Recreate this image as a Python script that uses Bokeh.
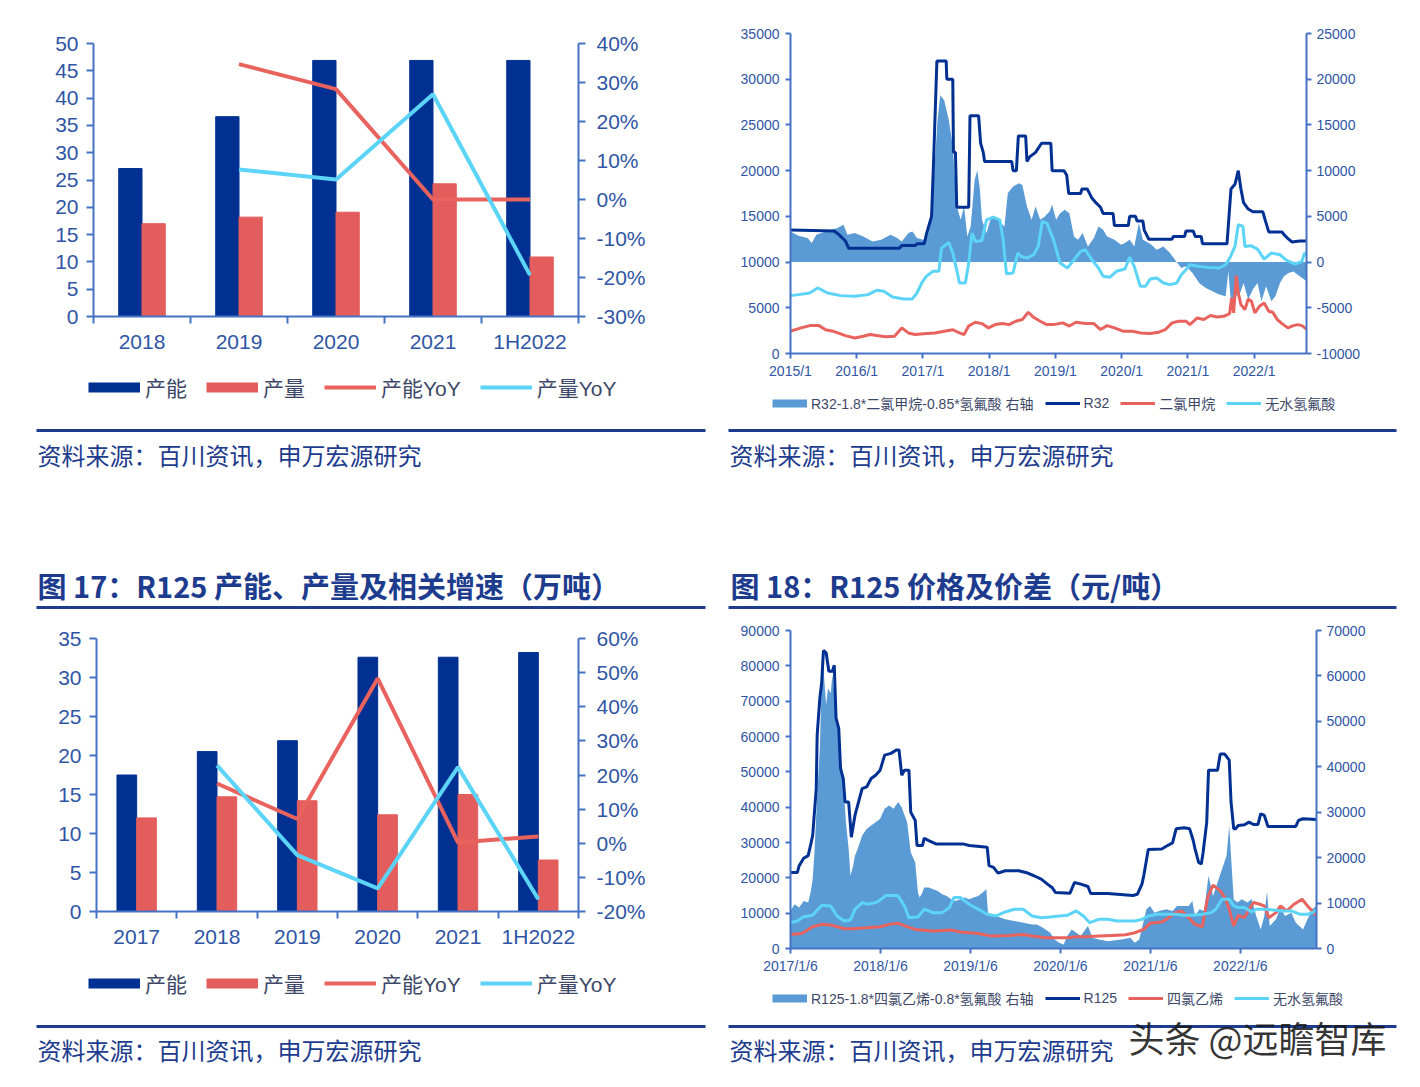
import math
from datetime import date
from bokeh.plotting import figure
from bokeh.layouts import row, column
from bokeh.models import (Range1d, LinearAxis, FixedTicker, SingleIntervalTicker,
                          PrintfTickFormatter, Legend, LegendItem)
from bokeh.core.properties import value
from bokeh.embed import file_html
from bokeh.resources import INLINE

NAN = float("nan")

# ---------------- data: R32 capacity / output (top left) ----------------
r32_years = ["2018", "2019", "2020", "2021", "1H2022"]
r32_capacity = [27.1, 36.6, 46.9, 46.9, 46.9]
r32_output = [17.0, 18.2, 19.1, 24.3, 10.9]
r32_capacity_yoy = [NAN, 34.7, 28.3, 0.0, 0.0]
r32_output_yoy = [NAN, 7.7, 5.1, 27.0, -19.4]

# ---------------- data: R125 capacity / output (bottom left) ----------------
r125_years = ["2017", "2018", "2019", "2020", "2021", "1H2022"]
r125_capacity = [17.5, 20.5, 21.9, 32.6, 32.6, 33.2]
r125_output = [12.0, 14.7, 14.2, 12.4, 15.0, 6.6]
r125_capacity_yoy = [NAN, 17.5, 7.1, 48.3, 0.2, 2.0]
r125_output_yoy = [NAN, 22.8, -3.5, -13.2, 22.3, -16.4]

# ---------------- data: R32 prices (top right), (decimal year, yuan/t) ----------------
r32_ticks = ["2015/1", "2016/1", "2017/1", "2018/1", "2019/1", "2020/1", "2021/1", "2022/1"]
r32_price = [(2015.00, 13500), (2015.66, 13400), (2015.73, 13000), (2015.83, 12300), (2015.88, 11500),
             (2016.64, 11500), (2016.68, 11800), (2016.88, 11800), (2016.91, 12000), (2017.02, 12000),
             (2017.05, 13000), (2017.09, 14000), (2017.13, 15000), (2017.16, 21000), (2017.21, 32000),
             (2017.35, 32000), (2017.36, 30000), (2017.45, 30000), (2017.46, 22000), (2017.49, 22000),
             (2017.51, 16000), (2017.69, 16000), (2017.71, 26000), (2017.84, 26000), (2017.87, 23000),
             (2017.91, 22000), (2017.93, 21000), (2018.34, 21000), (2018.36, 20000), (2018.41, 20000),
             (2018.44, 23800), (2018.55, 23800), (2018.57, 21000), (2018.61, 21500), (2018.70, 22000),
             (2018.79, 23000), (2018.93, 23000), (2018.95, 20000), (2019.13, 20000), (2019.17, 19500),
             (2019.20, 17500), (2019.38, 17500), (2019.40, 18000), (2019.48, 18000), (2019.55, 17000),
             (2019.61, 16500), (2019.68, 16000), (2019.72, 15300), (2019.87, 15300), (2019.89, 14000),
             (2020.10, 14000), (2020.12, 15000), (2020.21, 15000), (2020.23, 14500), (2020.32, 14500),
             (2020.34, 13500), (2020.41, 12500), (2020.76, 12500), (2020.78, 12800), (2020.95, 12800),
             (2020.97, 13400), (2021.08, 13400), (2021.11, 12800), (2021.20, 12800), (2021.22, 12000),
             (2021.59, 12000), (2021.62, 15000), (2021.65, 18000), (2021.71, 18500), (2021.76, 20000),
             (2021.80, 18000), (2021.84, 16500), (2021.91, 15800), (2021.98, 15500), (2022.13, 15500),
             (2022.17, 14500), (2022.22, 13300), (2022.42, 13300), (2022.45, 13000), (2022.52, 12500),
             (2022.57, 12200), (2022.69, 12300), (2022.79, 12300)]
dcm_price = [(2015.00, 2440), (2015.16, 2800), (2015.29, 3050), (2015.43, 3050), (2015.53, 2600),
             (2015.66, 2400), (2015.83, 1960), (2015.97, 1700), (2016.10, 1890), (2016.20, 2070),
             (2016.30, 1960), (2016.44, 1820), (2016.57, 1890), (2016.68, 2800), (2016.78, 2250),
             (2016.88, 2070), (2017.01, 2150), (2017.18, 2250), (2017.32, 2440), (2017.45, 2600),
             (2017.55, 2250), (2017.62, 2070), (2017.69, 3000), (2017.79, 3420), (2017.89, 3270),
             (2017.99, 2800), (2018.09, 3160), (2018.20, 3270), (2018.30, 3160), (2018.40, 3530),
             (2018.50, 3710), (2018.59, 4510), (2018.67, 3960), (2018.77, 3530), (2018.87, 3160),
             (2018.97, 3160), (2019.11, 3350), (2019.21, 3000), (2019.31, 3420), (2019.45, 3270),
             (2019.58, 3270), (2019.68, 2620), (2019.78, 3050), (2019.89, 2800), (2020.02, 2440),
             (2020.16, 2440), (2020.29, 2250), (2020.43, 2180), (2020.56, 2330), (2020.66, 2620),
             (2020.76, 3350), (2020.86, 3530), (2020.97, 3530), (2021.03, 3160), (2021.14, 3890),
             (2021.24, 3710), (2021.34, 4150), (2021.44, 4000), (2021.54, 4070), (2021.63, 4370),
             (2021.66, 6070), (2021.69, 4440), (2021.73, 8510), (2021.76, 6620), (2021.80, 5350),
             (2021.86, 4800), (2021.91, 5960), (2021.96, 5710), (2022.01, 4440), (2022.08, 5170),
             (2022.15, 5530), (2022.22, 4620), (2022.28, 4510), (2022.35, 3710), (2022.42, 3270),
             (2022.51, 2800), (2022.59, 3050), (2022.66, 3160), (2022.72, 3050), (2022.79, 2690)]
hf_price_a = [(2015.00, 6330), (2015.12, 6440), (2015.29, 6620), (2015.41, 7170), (2015.56, 6620),
              (2015.76, 6330), (2015.97, 6260), (2016.17, 6440), (2016.30, 6910), (2016.41, 6800),
              (2016.54, 6180), (2016.71, 5970), (2016.84, 5970), (2016.91, 6620), (2016.98, 7710),
              (2017.05, 8440), (2017.15, 8990), (2017.24, 8990), (2017.28, 11530), (2017.39, 12150),
              (2017.45, 10990), (2017.52, 8800), (2017.55, 7710), (2017.64, 7710), (2017.69, 9890),
              (2017.74, 13170), (2017.79, 12260), (2017.89, 12370), (2017.96, 14620), (2018.06, 14910),
              (2018.16, 14620), (2018.21, 12440), (2018.26, 8730), (2018.36, 8800), (2018.43, 10990),
              (2018.48, 10620), (2018.57, 10440), (2018.67, 10800), (2018.74, 11710), (2018.80, 14440),
              (2018.87, 14260), (2018.97, 12440), (2019.07, 9890), (2019.18, 9350), (2019.28, 10260),
              (2019.38, 11170), (2019.45, 11350), (2019.55, 10260), (2019.65, 9350), (2019.72, 8440),
              (2019.82, 8330), (2019.92, 8990), (2020.05, 9240), (2020.12, 10550), (2020.19, 9530),
              (2020.28, 7350), (2020.36, 7350), (2020.43, 8150), (2020.53, 8260), (2020.63, 7710),
              (2020.73, 7530), (2020.83, 7710), (2020.90, 8620), (2020.97, 9170), (2021.03, 9710),
              (2021.17, 9530), (2021.30, 9420), (2021.47, 9350), (2021.57, 9710), (2021.64, 10550),
              (2021.71, 11710), (2021.76, 14080), (2021.83, 13900), (2021.86, 11710), (2021.95, 11790),
              (2022.05, 11420), (2022.15, 10330), (2022.26, 10990), (2022.39, 10800), (2022.49, 10190),
              (2022.62, 9780), (2022.72, 10080), (2022.76, 10990), (2022.79, 10800)]
r32_spread = [(2015.00, 3350), (2015.12, 2880), (2015.26, 2620), (2015.32, 2080), (2015.39, 2990),
              (2015.53, 3350), (2015.70, 3710), (2015.80, 4080), (2015.86, 2990), (2015.97, 3170),
              (2016.10, 2810), (2016.24, 2260), (2016.37, 2440), (2016.51, 2990), (2016.61, 2620),
              (2016.68, 2260), (2016.78, 3170), (2016.84, 3350), (2016.91, 2620), (2017.01, 2440),
              (2017.08, 3170), (2017.15, 7530), (2017.22, 15540), (2017.26, 18260), (2017.32, 17710),
              (2017.39, 15540), (2017.45, 12630), (2017.51, 6080), (2017.57, 4620), (2017.62, 6080),
              (2017.67, 2810), (2017.72, 3900), (2017.78, 8990), (2017.82, 10080), (2017.86, 7900),
              (2017.89, 4620), (2017.96, 3170), (2018.03, 4990), (2018.13, 4620), (2018.23, 3900),
              (2018.28, 7530), (2018.36, 8260), (2018.45, 8620), (2018.50, 8440), (2018.57, 6080),
              (2018.64, 4620), (2018.70, 6080), (2018.77, 4620), (2018.84, 4990), (2018.91, 5530),
              (2018.95, 6260), (2019.01, 4620), (2019.07, 5350), (2019.14, 5720), (2019.21, 5350),
              (2019.28, 2810), (2019.34, 2440), (2019.41, 3170), (2019.49, 1710), (2019.58, 2620),
              (2019.65, 3900), (2019.72, 3530), (2019.78, 2810), (2019.89, 2440), (2019.99, 1890),
              (2020.05, 2080), (2020.12, 2440), (2020.19, 1710), (2020.26, 4260), (2020.32, 2440),
              (2020.43, 2000), (2020.53, 1350), (2020.63, 1710), (2020.73, 980), (2020.83, 0),
              (2020.90, -650), (2020.97, -470), (2021.07, -1200), (2021.17, -2290), (2021.27, -2830),
              (2021.37, -3200), (2021.47, -3560), (2021.57, -3740), (2021.61, -1000), (2021.64, -3600),
              (2021.68, -5560), (2021.71, -3740), (2021.78, -3560), (2021.84, -2290), (2021.91, -4100),
              (2021.98, -3000), (2022.05, -2290), (2022.11, -4280), (2022.18, -2650), (2022.26, -4280),
              (2022.32, -3740), (2022.39, -2290), (2022.45, -1560), (2022.52, -1200), (2022.59, -1020),
              (2022.69, -1560), (2022.76, -1930), (2022.79, -2110)]

# ---------------- data: R125 prices (bottom right) ----------------
r125_ticks = ["2017/1/6", "2018/1/6", "2019/1/6", "2020/1/6", "2021/1/6", "2022/1/6"]
r125_price = [(2017.01, 21540), (2017.09, 21540), (2017.11, 23430), (2017.16, 25520), (2017.21, 26280),
              (2017.24, 29600), (2017.26, 31970), (2017.28, 38600), (2017.30, 45260), (2017.31, 60400),
              (2017.34, 70870), (2017.36, 75140), (2017.38, 84340), (2017.41, 83680), (2017.44, 78460),
              (2017.48, 78460), (2017.50, 80170), (2017.52, 65180), (2017.55, 62330), (2017.57, 50950),
              (2017.60, 48100), (2017.62, 41460), (2017.66, 41460), (2017.69, 31500), (2017.73, 37670),
              (2017.77, 41460), (2017.81, 45260), (2017.86, 45730), (2017.91, 48100), (2017.96, 49050),
              (2018.01, 50470), (2018.06, 54740), (2018.13, 55220), (2018.19, 56170), (2018.22, 56170),
              (2018.25, 49050), (2018.28, 50470), (2018.33, 50470), (2018.35, 38600), (2018.40, 36240),
              (2018.42, 29130), (2018.48, 29130), (2018.50, 31210), (2018.55, 30550), (2018.63, 29600),
              (2018.93, 29600), (2019.00, 29130), (2019.20, 28650), (2019.22, 23430), (2019.27, 22960),
              (2019.32, 21350), (2019.40, 22010), (2019.55, 22010), (2019.65, 21350), (2019.72, 20590),
              (2019.80, 19640), (2019.87, 18220), (2019.92, 17270), (2019.96, 15840), (2020.12, 15650),
              (2020.17, 18690), (2020.24, 18220), (2020.32, 17550), (2020.35, 15560), (2020.54, 15560),
              (2020.82, 15000), (2020.87, 15370), (2020.92, 18220), (2020.94, 20590), (2020.99, 27990),
              (2021.14, 28180), (2021.19, 28940), (2021.26, 29890), (2021.30, 33870), (2021.39, 34160),
              (2021.45, 33870), (2021.49, 30550), (2021.51, 28180), (2021.55, 24380), (2021.58, 23910),
              (2021.60, 27230), (2021.64, 35770), (2021.66, 50470), (2021.76, 50470), (2021.79, 55030),
              (2021.84, 55030), (2021.89, 53320), (2021.91, 41460), (2021.94, 33870), (2021.96, 33870),
              (2021.99, 34820), (2022.06, 35010), (2022.11, 35770), (2022.16, 35100), (2022.21, 35100),
              (2022.24, 38140), (2022.28, 37670), (2022.32, 34540), (2022.63, 34540), (2022.66, 36240),
              (2022.71, 36720), (2022.86, 36500)]
pce_price = [(2017.01, 3980), (2017.14, 4270), (2017.26, 6170), (2017.36, 6830), (2017.48, 6550),
             (2017.61, 5600), (2017.71, 5600), (2017.86, 5880), (2018.01, 6170), (2018.11, 6830),
             (2018.21, 7120), (2018.31, 6170), (2018.40, 5410), (2018.60, 4930), (2018.80, 5220),
             (2018.90, 4650), (2019.10, 4270), (2019.25, 3510), (2019.45, 3700), (2019.60, 3980),
             (2019.70, 3510), (2019.85, 3040), (2020.09, 3040), (2020.19, 3320), (2020.29, 3320),
             (2020.44, 3510), (2020.59, 3700), (2020.74, 3890), (2020.84, 4460), (2020.94, 5410),
             (2021.01, 7120), (2021.14, 7500), (2021.19, 8250), (2021.29, 10150), (2021.36, 10630),
             (2021.44, 8730), (2021.51, 6830), (2021.59, 6170), (2021.65, 14420), (2021.71, 17930),
             (2021.79, 16320), (2021.84, 14420), (2021.89, 11100), (2021.94, 6360), (2021.99, 9390),
             (2022.06, 8730), (2022.11, 11100), (2022.16, 13000), (2022.23, 12520), (2022.28, 12050),
             (2022.33, 8730), (2022.41, 10150), (2022.46, 12050), (2022.53, 10630), (2022.61, 12520),
             (2022.70, 13950), (2022.76, 12050), (2022.83, 10150), (2022.86, 9200)]
hf_price_b = [(2017.01, 7310), (2017.09, 7780), (2017.16, 9010), (2017.26, 9390), (2017.36, 12240),
              (2017.46, 12050), (2017.53, 9200), (2017.61, 7780), (2017.68, 8060), (2017.73, 11100),
              (2017.81, 13000), (2017.88, 12520), (2017.98, 13190), (2018.08, 15090), (2018.21, 14900),
              (2018.28, 12050), (2018.33, 8730), (2018.43, 8920), (2018.50, 11100), (2018.60, 10150),
              (2018.70, 10150), (2018.78, 11570), (2018.83, 14420), (2018.90, 14420), (2019.00, 12520),
              (2019.10, 11100), (2019.20, 9680), (2019.30, 9200), (2019.40, 10340), (2019.50, 11100),
              (2019.60, 11100), (2019.70, 9200), (2019.80, 8730), (2019.90, 8920), (2020.00, 9200),
              (2020.09, 9390), (2020.19, 10630), (2020.27, 9200), (2020.34, 7310), (2020.44, 8250),
              (2020.54, 8250), (2020.64, 7780), (2020.84, 7780), (2020.92, 8250), (2020.99, 9200),
              (2021.09, 9680), (2021.29, 9680), (2021.39, 9390), (2021.49, 9390), (2021.59, 9680),
              (2021.69, 10150), (2021.74, 11100), (2021.81, 13950), (2021.89, 13950), (2021.94, 12050),
              (2021.99, 11570), (2022.06, 11570), (2022.14, 10340), (2022.19, 11100), (2022.28, 11100),
              (2022.38, 10910), (2022.48, 10630), (2022.58, 10630), (2022.68, 9680), (2022.76, 9680),
              (2022.83, 10340), (2022.86, 11100)]
r125_spread = [(2017.01, 8260), (2017.06, 9730), (2017.11, 9000), (2017.16, 10470), (2017.21, 10100),
               (2017.24, 12680), (2017.26, 15270), (2017.28, 21170), (2017.31, 33700), (2017.34, 44030),
               (2017.36, 58780), (2017.38, 61730), (2017.41, 53610), (2017.43, 57300), (2017.46, 56200),
               (2017.48, 60250), (2017.51, 54350), (2017.53, 49930), (2017.56, 44760), (2017.58, 39600),
               (2017.61, 33700), (2017.63, 27800), (2017.66, 21900), (2017.68, 16000), (2017.71, 18210),
               (2017.73, 20430), (2017.76, 21900), (2017.81, 24850), (2017.86, 26330), (2017.91, 27060),
               (2017.96, 27800), (2018.01, 28540), (2018.06, 30750), (2018.11, 31490), (2018.16, 30750),
               (2018.21, 32230), (2018.25, 31120), (2018.31, 27800), (2018.35, 21170), (2018.40, 18950),
               (2018.43, 12320), (2018.45, 11210), (2018.48, 12320), (2018.50, 13420), (2018.55, 13420),
               (2018.60, 13050), (2018.65, 12680), (2018.70, 11950), (2018.75, 11580), (2018.80, 10840),
               (2018.85, 10470), (2018.90, 10840), (2018.95, 11210), (2019.00, 10840), (2019.05, 11210),
               (2019.10, 11580), (2019.15, 12320), (2019.19, 13050), (2019.21, 7520), (2019.30, 7150),
               (2019.40, 6420), (2019.50, 6050), (2019.60, 5680), (2019.70, 5310), (2019.75, 5310),
               (2019.82, 4570), (2019.90, 3470), (2019.95, 1990), (2020.00, 1250), (2020.05, 880),
               (2020.09, 2730), (2020.14, 4200), (2020.19, 3470), (2020.24, 2730), (2020.29, 4200),
               (2020.32, 4940), (2020.37, 2360), (2020.44, 1990), (2020.54, 1620), (2020.69, 1990),
               (2020.79, 2360), (2020.84, 1250), (2020.89, 1990), (2020.97, 8630), (2021.01, 9370),
               (2021.06, 7890), (2021.11, 8260), (2021.19, 8630), (2021.26, 8260), (2021.31, 9370),
               (2021.44, 9370), (2021.48, 10470), (2021.51, 7150), (2021.56, 8630), (2021.61, 8260),
               (2021.66, 16000), (2021.71, 11580), (2021.76, 14530), (2021.81, 17480), (2021.86, 20430),
               (2021.89, 27060), (2021.91, 20430), (2021.94, 10840), (2021.98, 10100), (2022.03, 10840),
               (2022.09, 10100), (2022.14, 10840), (2022.19, 7150), (2022.24, 4200), (2022.28, 7150),
               (2022.31, 12680), (2022.34, 4940), (2022.41, 6420), (2022.46, 9000), (2022.51, 7150),
               (2022.58, 7890), (2022.63, 5680), (2022.71, 4200), (2022.76, 6420), (2022.81, 8630),
               (2022.86, 9370)]

# ---------------- texts ----------------
SOURCE = "资料来源：百川资讯，申万宏源研究"
TITLE17 = "图 17：R125 产能、产量及相关增速（万吨）"
TITLE18 = "图 18：R125 价格及价差（元/吨）"
WATERMARK = "头条 @远瞻智库"
BAR_LABELS = ["产能", "产量", "产能YoY", "产量YoY"]
R32_LABELS = ["R32-1.8*二氯甲烷-0.85*氢氟酸 右轴", "R32", "二氯甲烷", "无水氢氟酸"]
R125_LABELS = ["R125-1.8*四氯乙烯-0.8*氢氟酸 右轴", "R125", "四氯乙烯", "无水氢氟酸"]

# ---------------- style ----------------
NAVY = "#003192"
RED_BAR = "#E35D5D"
RED_LINE = "#E8625E"
CYAN = "#5CD4F8"
AREA = "#5B9BD5"
AXIS = "#4472C4"
TICK = "#2F55A4"
LEG_TXT = "#3D4868"
DEEP = "#1E3C8E"
LATIN = "'Liberation Sans'"
CJK = "'Noto Sans CJK SC'"
MIXED = "'Liberation Sans', 'Noto Sans CJK SC'"


def decimal_year(label):
    parts = [int(s) for s in label.split("/")]
    d = parts[2] if len(parts) > 2 else 1
    return parts[0] + (date(parts[0], parts[1], d) - date(parts[0], 1, 1)).days / 365.0


def unzip(pairs):
    return [a for a, _ in pairs], [b for _, b in pairs]


def no_align(p):
    if "frame_align" in p.properties():
        p.frame_align = False


def style_axis(ax, size, tick_out, standoff):
    ax.axis_line_color = AXIS
    ax.axis_line_width = 2
    ax.major_tick_line_color = AXIS
    ax.major_tick_line_width = 2
    ax.major_tick_out = tick_out
    ax.major_tick_in = 0
    ax.minor_tick_line_color = None
    ax.major_label_text_font = LATIN
    ax.major_label_text_font_size = size
    ax.major_label_text_color = TICK
    ax.major_label_standoff = standoff


def base_fig(fw, fh, borders, x_range, y_range):
    bl, br, bt, bb = borders
    p = figure(frame_width=fw, frame_height=fh, min_border_left=bl, min_border_right=br,
               min_border_top=bt, min_border_bottom=bb, x_range=x_range, y_range=y_range,
               output_backend="svg", toolbar_location=None)
    no_align(p)
    p.xgrid.visible = False
    p.ygrid.visible = False
    p.outline_line_color = None
    p.background_fill_color = "white"
    p.border_fill_color = "white"
    return p


def bar_chart(cats, cap, out, cap_yoy, out_yoy, ymax, pmin, pmax, fw, fh, borders, bar_w):
    n = len(cats)
    p = base_fig(fw, fh, borders, Range1d(0, n), Range1d(0, ymax))
    centers = [i + 0.5 for i in range(n)]
    p.vbar(x=[c - bar_w / 2 for c in centers], top=cap, width=bar_w, color=NAVY)
    p.vbar(x=[c + bar_w / 2 for c in centers], top=out, width=bar_w, color=RED_BAR)
    p.extra_y_ranges = {"pct": Range1d(pmin, pmax)}
    p.line(centers, cap_yoy, y_range_name="pct", line_width=4, color=RED_LINE)
    p.line(centers, out_yoy, y_range_name="pct", line_width=4, color=CYAN)

    xa = p.xaxis[0]
    style_axis(xa, "21px", 0, 6)
    xa.ticker = FixedTicker(ticks=centers, minor_ticks=list(range(n + 1)))
    xa.major_label_overrides = {c: lab for c, lab in zip(centers, cats)}
    xa.minor_tick_line_color = AXIS
    xa.minor_tick_line_width = 2
    xa.minor_tick_out = 7
    xa.minor_tick_in = 0

    ya = p.yaxis[0]
    style_axis(ya, "21px", 7, 8)
    ya.ticker = SingleIntervalTicker(interval=5)

    ra = LinearAxis(y_range_name="pct", ticker=SingleIntervalTicker(interval=10),
                    formatter=PrintfTickFormatter(format="%d%%"))
    style_axis(ra, "21px", 7, 11)
    p.add_layout(ra, "right")
    return p


def ts_chart(price, raw1, raw2, spread, tick_labels, x_end, lmax, lstep, rmin, rmax, rstep,
             fw, fh, borders):
    ticks = [decimal_year(t) for t in tick_labels]
    p = base_fig(fw, fh, borders, Range1d(ticks[0], x_end), Range1d(0, lmax))
    p.extra_y_ranges = {"spread": Range1d(rmin, rmax)}
    sx, sv = unzip(spread)
    p.varea(x=sx, y1=[0] * len(sx), y2=sv, y_range_name="spread", fill_color=AREA)
    px, pv = unzip(price)
    p.line(px, pv, color=NAVY, line_width=3)
    ax1, av1 = unzip(raw1)
    p.line(ax1, av1, color=RED_LINE, line_width=3)
    ax2, av2 = unzip(raw2)
    p.line(ax2, av2, color=CYAN, line_width=3)

    xa = p.xaxis[0]
    style_axis(xa, "14px", 5, 4)
    xa.ticker = FixedTicker(ticks=ticks)
    xa.major_label_overrides = {t: lab for t, lab in zip(ticks, tick_labels)}
    ya = p.yaxis[0]
    style_axis(ya, "14px", 5, 6)
    ya.ticker = SingleIntervalTicker(interval=lstep)
    ya.formatter = PrintfTickFormatter(format="%d")
    ra = LinearAxis(y_range_name="spread", ticker=SingleIntervalTicker(interval=rstep),
                    formatter=PrintfTickFormatter(format="%d"))
    style_axis(ra, "14px", 5, 5)
    p.add_layout(ra, "right")
    return p


def deco(w, h):
    p = figure(frame_width=w, frame_height=h, x_range=Range1d(0, w), y_range=Range1d(h, 0),
               x_axis_type=None, y_axis_type=None, output_backend="svg", toolbar_location=None,
               min_border=0)
    no_align(p)
    p.outline_line_color = None
    p.grid.visible = False
    p.border_fill_color = "white"
    return p


def deco_legend(p, keys, labels, loc, gw, size, spacing, standoff):
    # legend keys: stroke width and colour of each series' key; the proxies lie outside the view
    rends = [p.line(x=[-60, -50], y=[-60, -60], color=color, line_width=lw) for color, lw in keys]
    items = [LegendItem(label=lab, renderers=[r]) for lab, r in zip(labels, rends)]
    leg = Legend(items=items, orientation="horizontal", location=loc, glyph_width=gw, glyph_height=12,
                 label_text_font=MIXED, label_text_font_size=size, label_text_color=LEG_TXT,
                 spacing=spacing, label_standoff=standoff, padding=0, margin=0,
                 border_line_alpha=0, background_fill_alpha=0)
    p.add_layout(leg)


def hline(p, x0, x1, y):
    p.line([x0, x1], [y, y], line_width=3, color=DEEP)


def txt(p, x, y, s, size, bold=False, color=DEEP, font=CJK, alpha=1.0):
    p.text(x=[x], y=[y], text=[s], text_font=value(font), text_font_size=value(size),
           text_font_style="bold" if bold else "normal", text_color=color, text_alpha=alpha,
           text_baseline="middle", text_align="left")


BAR_KEYS = [(NAVY, 10), (RED_BAR, 10), (RED_LINE, 4), (CYAN, 4)]
TS_KEYS = [(AREA, 8), (NAVY, 3), (RED_LINE, 3), (CYAN, 3)]

# ---------------- charts ----------------
LW, RW = 712, 706

tl = bar_chart(r32_years, r32_capacity, r32_output, r32_capacity_yoy, r32_output_yoy,
               50, -30, 40, 485, 273, (93, LW - 93 - 485, 43, 44), 0.24)
bl = bar_chart(r125_years, r125_capacity, r125_output, r125_capacity_yoy, r125_output_yoy,
               35, -20, 60, 482, 273, (96, LW - 96 - 482, 18, 49), 0.245)
tr = ts_chart(r32_price, dcm_price, hf_price_a, r32_spread, r32_ticks, 2022.79,
              35000, 5000, -10000, 25000, 5000, 516, 320, (78, RW - 78 - 516, 33, 32))
br = ts_chart(r125_price, pce_price, hf_price_b, r125_spread, r125_ticks, 2022.86,
              90000, 10000, 0, 70000, 10000, 526, 318, (78, RW - 78 - 526, 10, 32))

# ---------------- legends, sources, titles ----------------
mid_l = deco(LW, 260)
deco_legend(mid_l, BAR_KEYS, BAR_LABELS, (88, 218), 52, "21px", 19, 5)
hline(mid_l, 36, 705, 70)
txt(mid_l, 37, 94, SOURCE, "24px")
txt(mid_l, 37, 224, TITLE17, "29px", bold=True)
hline(mid_l, 36, 705, 247)

mid_r = deco(RW, 235)
deco_legend(mid_r, TS_KEYS, R32_LABELS, (60, 207), 35, "14px", 11, 4)
hline(mid_r, 16, 684, 45)
txt(mid_r, 17, 69, SOURCE, "24px")
txt(mid_r, 18, 199, TITLE18, "29px", bold=True)
hline(mid_r, 16, 684, 222)

bot_l = deco(LW, 125)
deco_legend(bot_l, BAR_KEYS, BAR_LABELS, (88, 87), 52, "21px", 19, 5)
hline(bot_l, 36, 705, 66)
txt(bot_l, 37, 89, SOURCE, "24px")

bot_r = deco(RW, 105)
deco_legend(bot_r, TS_KEYS, R125_LABELS, (60, 77), 35, "14px", 11, 4)
hline(bot_r, 16, 684, 46)
txt(bot_r, 17, 69, SOURCE, "24px")
txt(bot_r, 416, 56, WATERMARK, "36px", color="#1a1a1a", alpha=0.9)

layout = row(column(tl, mid_l, bl, bot_l), column(tr, mid_r, br, bot_r))
open("out.html", "w").write(file_html(layout, INLINE))
